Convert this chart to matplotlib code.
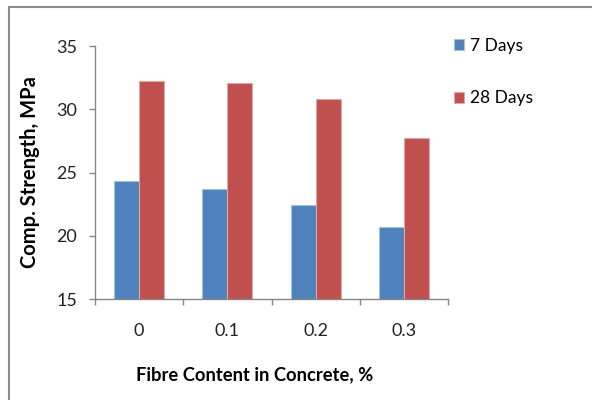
import numpy as np
import matplotlib.pyplot as plt
from matplotlib.patches import Rectangle

# compressive strength vs fibre content
fibre = ['0', '0.1', '0.2', '0.3']
days7 = [24.3, 23.7, 22.4, 20.7]
days28 = [32.2, 32.1, 30.8, 27.7]

blue = '#4F81BD'
red = '#C0504D'
axcol = '#868686'

plt.rcParams['font.family'] = ['Lato', 'DejaVu Sans']

fig = plt.figure(figsize=(5.92, 4.0), dpi=100)
ax = fig.add_axes([95 / 592, 1 - 299 / 400, 353 / 592, 253 / 400])

x = np.arange(len(fibre))
w = 0.283
ax.bar(x - w / 2, days7, w, bottom=0, color=blue, edgecolor='#A7C0DE',
       linewidth=0.8, label='7 Days')
ax.bar(x + w / 2, days28, w, bottom=0, color=red, edgecolor='#DFA7A6',
       linewidth=0.8, label='28 Days')

ax.set_ylim(15, 35)
ax.set_xlim(-0.5, len(fibre) - 0.5)
ax.set_yticks([15, 20, 25, 30, 35])

ax.set_xticks(x)
ax.set_xticklabels(fibre)
ax.set_xticks(np.arange(len(fibre) + 1) - 0.5, minor=True)
ax.tick_params(axis='x', which='major', length=0, pad=17, labelsize=13,
               colors='#222222')
ax.tick_params(axis='x', which='minor', length=4.5, width=1, color=axcol)
ax.tick_params(axis='y', length=4, width=1, color=axcol, pad=9,
               labelsize=13, labelcolor='#222222')

for s in ['top', 'right']:
    ax.spines[s].set_visible(False)
for s in ['left', 'bottom']:
    ax.spines[s].set_color(axcol)
    ax.spines[s].set_linewidth(1)

ax.set_ylabel('Comp. Strength, MPa', fontsize=14.5, fontweight='bold')
ax.yaxis.set_label_coords(-0.155, 0.5)
fig.text(255 / 592, 1 - 375 / 400, 'Fibre Content in Concrete, %',
         ha='center', va='center', fontsize=13.2, fontweight='bold')

ax.legend(loc='upper left', bbox_to_anchor=(454 / 592, 1 - 38 / 400),
          bbox_transform=fig.transFigure, frameon=False, handlelength=0.6,
          handleheight=0.6, handletextpad=0.3, labelspacing=2.1,
          fontsize=12.5, borderaxespad=0, borderpad=0)

# chart area border
fig.patches.append(Rectangle((9 / 592, -0.1), 1.2, 1 - 7 / 400 + 0.1,
                             transform=fig.transFigure, fill=False,
                             edgecolor='#8C8C8C', linewidth=1.5))

fig.savefig('out.png', dpi=100)
